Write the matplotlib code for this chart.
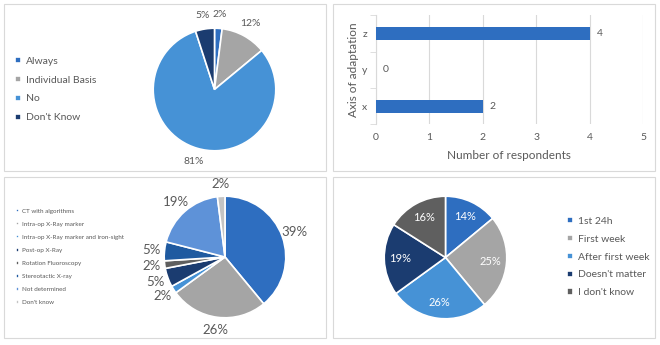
import matplotlib
matplotlib.use("Agg")
import matplotlib.pyplot as plt
from matplotlib.patches import Rectangle

plt.rcParams['font.family'] = ['Lato', 'DejaVu Sans']

W, H = 660, 345
TEXT = '#595959'

# panel A: routine adaptation
a_labels = ['Always', 'Individual Basis', 'No', "Don't Know"]
a_values = [2, 12, 81, 5]
a_colors = ['#2E6EC0', '#A5A5A5', '#4692D6', '#1B3C70']

# panel B: axis of adaptation
b_axes = ['x', 'y', 'z']
b_counts = [2, 0, 4]
b_ticks = [0, 1, 2, 3, 4, 5]

# panel C: verification method
c_labels = ['CT with algorithms', 'Intra-op X-Ray marker',
            'Intra-op X-Ray marker and iron-sight', 'Post-op X-Ray',
            'Rotation Fluoroscopy', 'Stereotactic X-ray',
            'Not determined', "Don't know"]
c_values = [39, 26, 2, 5, 2, 5, 19, 2]
c_colors = ['#2E6EC0', '#A5A5A5', '#4692D6', '#1B3C70',
            '#5F5F5F', '#1F5AA0', '#5E92D8', '#C4C4C4']

# panel D: timing
d_labels = ['1st 24h', 'First week', 'After first week', "Doesn't matter", "I don't know"]
d_values = [14, 25, 26, 19, 16]
d_colors = ['#2E6EC0', '#A5A5A5', '#4692D6', '#1B3C70', '#5F5F5F']


def px_rect(x0, y0, x1, y1):
    # pixel box (top-left origin) -> figure fraction rect
    return [x0 / W, 1 - y1 / H, (x1 - x0) / W, (y1 - y0) / H]


def pie_axes(fig, cx, cy, r):
    ax = fig.add_axes(px_rect(cx - r, cy - r, cx + r, cy + r))
    return ax


fig = plt.figure(figsize=(W / 100, H / 100), dpi=100)

# panel borders
for box in [(4, 4, 326, 171), (333, 4, 655, 171), (4, 177, 326, 338), (333, 177, 655, 338)]:
    fig.patches.append(Rectangle((box[0] / W, 1 - box[3] / H), (box[2] - box[0]) / W,
                                 (box[3] - box[1]) / H, transform=fig.transFigure,
                                 fill=False, edgecolor='#D9D9D9', lw=0.8))

pct = lambda p: f'{p:.0f}%'

# --- A
ax = pie_axes(fig, 214.5, 89.5, 62.5)
wa, ta, aa = ax.pie(a_values, colors=a_colors, startangle=90, counterclock=False,
                    autopct=pct, pctdistance=1.23,
                    wedgeprops=dict(edgecolor='white', linewidth=1.2),
                    textprops=dict(color=TEXT, fontsize=7.5))
ax.set_xlim(-1.02, 1.02)
ax.set_ylim(-1.02, 1.02)
fig.legend(wa, a_labels, loc='center left', bbox_to_anchor=(6 / W, 1 - 89.5 / H),
           frameon=False, fontsize=7.5, handlelength=0.55, handleheight=0.55,
           handletextpad=0.5, labelspacing=0.95, labelcolor=TEXT)

# --- B
ax = fig.add_axes(px_rect(375.7, 15.3, 643, 124.3))
bars = ax.barh(b_axes, b_counts, height=0.36, color='#2E6EC0', zorder=3)
ax.bar_label(bars, padding=5, color=TEXT, fontsize=7.5)
ax.set_xlim(0, 5)
ax.set_ylim(-0.5, 2.5)
ax.set_xticks(b_ticks)
ax.grid(axis='x', color='#D9D9D9', lw=0.8, zorder=0)
for s in ['top', 'right', 'bottom']:
    ax.spines[s].set_visible(False)
ax.spines['left'].set_color('#D9D9D9')
ax.tick_params(axis='both', length=0, labelsize=7.5, labelcolor=TEXT, pad=6)
ax.set_yticks([-0.5, 0.5, 1.5, 2.5], minor=True)
ax.tick_params(axis='y', which='minor', length=4, color='#D9D9D9')
ax.set_xlabel('Number of respondents', color=TEXT, fontsize=8.5, labelpad=6)
ax.set_ylabel('Axis of adaptation', color=TEXT, fontsize=8.5, labelpad=2)

# --- C
ax = pie_axes(fig, 225, 257, 62)
wc, tc, ac = ax.pie(c_values, colors=c_colors, startangle=90, counterclock=False,
                    autopct=pct, pctdistance=1.21,
                    wedgeprops=dict(edgecolor='white', linewidth=1.2),
                    textprops=dict(color=TEXT, fontsize=9.5))
ax.set_xlim(-1.02, 1.02)
ax.set_ylim(-1.02, 1.02)
fig.legend(wc, c_labels, loc='center left', bbox_to_anchor=(10 / W, 1 - 257 / H),
           frameon=False, fontsize=4.5, handlelength=0.5, handleheight=0.5,
           handletextpad=0.6, labelspacing=1.3, labelcolor=TEXT)

# --- D
ax = pie_axes(fig, 445.5, 257.5, 62.5)
wd, td, ad = ax.pie(d_values, colors=d_colors, startangle=90, counterclock=False,
                    autopct=pct, pctdistance=0.74,
                    wedgeprops=dict(edgecolor='white', linewidth=1.2),
                    textprops=dict(color='white', fontsize=8))
ax.set_xlim(-1.02, 1.02)
ax.set_ylim(-1.02, 1.02)
fig.legend(wd, d_labels, loc='center left', bbox_to_anchor=(558 / W, 1 - 257 / H),
           frameon=False, fontsize=7.5, handlelength=0.55, handleheight=0.55,
           handletextpad=0.5, labelspacing=0.85, labelcolor=TEXT)

fig.savefig('out.png', dpi=100)
